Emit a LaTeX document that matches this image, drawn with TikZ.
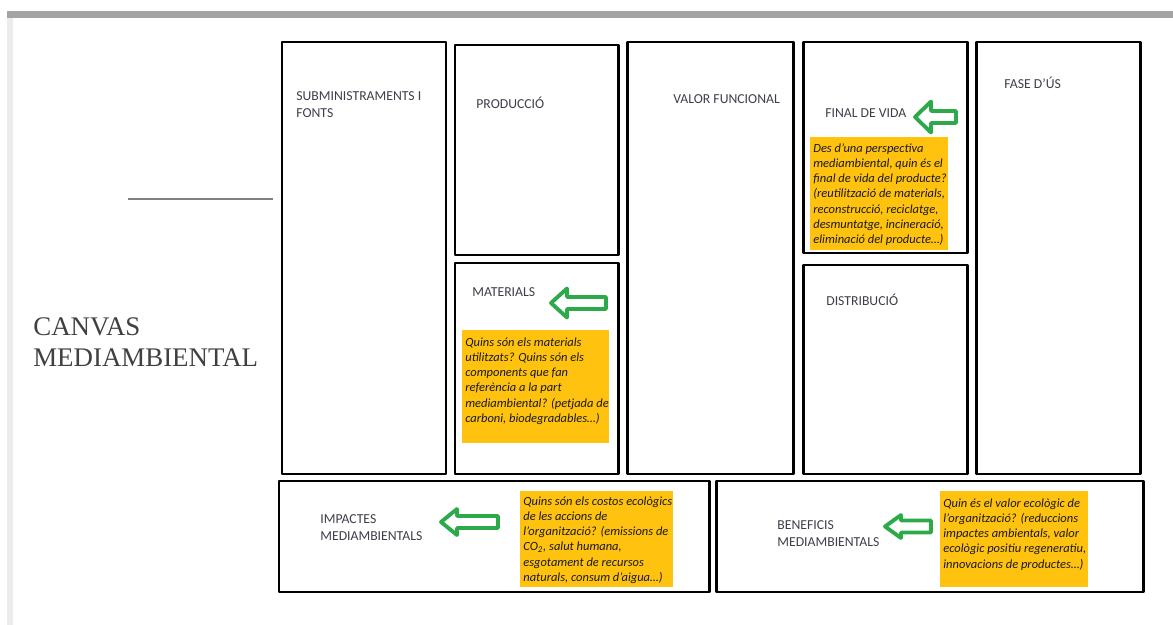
\documentclass[tikz,border=0pt]{standalone}
\usepackage{fontspec}
\setmainfont{Carlito}
\newfontfamily\titlefont{Liberation Serif}
\usetikzlibrary{positioning, calc}
\definecolor{barGrey}{RGB}{163,163,163}
\definecolor{stripGrey}{RGB}{236,236,236}
\definecolor{canvasGold}{RGB}{255,194,14}
\definecolor{arrowGreen}{RGB}{44,170,74}
\definecolor{labelGrey}{RGB}{62,62,74}

\tikzset{
  cell/.style={draw=black, line width=1.7pt, line join=round},
  cellname/.style={anchor=west, inner sep=0pt, align=left, text=labelGrey,
    font=\fontsize{7.8}{9.6}\selectfont},
  question/.style={anchor=north west, inner sep=0pt, align=left, text=black!90,
    font=\fontsize{7.1}{8.7}\selectfont\itshape},
  greenarrow/.style={draw=arrowGreen, fill=white, line width=2.2pt, line join=round}
}

\begin{document}
\begin{tikzpicture}[x=0.02cm, y=-0.02cm]
        \useasboundingbox (0,0) rectangle (1173,625);
        % page frame
        \fill[stripGrey] (7,11) rectangle (13,625);
        \fill[barGrey] (7,11) rectangle (1173,18);

        % title
        \draw[gray, line width=0.7pt] (128,199) -- (273,199);
        \node[anchor=west, inner sep=0pt, align=left, text=black!75,
          font=\titlefont\fontsize{15.3}{17.6}\selectfont] (title) at (33,342.5) {CANVAS\\MEDIAMBIENTAL};

        % cells of the canvas
        \draw[cell] (282,42) rectangle (446,474);
        \draw[cell] (455,45) rectangle (618,255);
        \draw[cell] (455,263) rectangle (618,474);
        \draw[cell] (627,42) rectangle (793,474);
        \draw[cell] (803,42) rectangle (967,253);
        \draw[cell] (803,265) rectangle (967,474);
        \draw[cell] (976,42) rectangle (1140,474);
        \draw[cell] (279,481) rectangle (709,592);
        \draw[cell] (716,481) rectangle (1143,592);

        \node[cellname] (supply) at (296,104.5) {SUBMINISTRAMENTS I\\FONTS};
        \node[cellname] (production) at (476,103) {PRODUCCIÓ};
        \node[cellname] (materials) at (472,292) {MATERIALS};
        \node[cellname] (value) at (673,99) {VALOR FUNCIONAL};
        \node[cellname] (endoflife) at (825,113) {FINAL DE VIDA};
        \node[cellname] (distribution) at (826,300) {DISTRIBUCIÓ};
        \node[cellname] (usephase) at (1004,83) {FASE D'ÚS};
        \node[cellname] (impacts) at (320,528) {IMPACTES\\MEDIAMBIENTALS};
        \node[cellname] (benefits) at (777,533.5) {BENEFICIS\\MEDIAMBIENTALS};

        % green arrows
        \foreach \tx/\ty/\len/\hh in {915/117/41/15.5, 551/303/55/14.5, 441/522/57/13, 885/526.5/46/11.5}
          \draw[greenarrow] (\tx,\ty) -- ++(16,-\hh) -- ++(0,\hh-6) -- ++(\len-16,0)
            -- ++(0,12) -- ++(-\len+16,0) -- ++(0,\hh-6) -- cycle;

        % yellow questions
        \fill[canvasGold] (810,137) rectangle (948,250);
        \node[question] (endq) at (813,143) {Des d'una perspectiva\\mediambiental, quin és el\\final de vida del producte?\\(reutilització de materials,\\reconstrucció, reciclatge,\\desmuntatge, incineració,\\eliminació del producte\ldots)};

        \fill[canvasGold] (462,330) rectangle (609,443);
        \node[question] (materialsq) at (465,337) {Quins són els materials\\utilitzats? Quins són els\\components que fan\\referència a la part\\mediambiental? (petjada de\\carboni, biodegradables\ldots)};

        \fill[canvasGold] (520,491) rectangle (673,587);
        \node[question] (impactsq) at (523,496) {Quins són els costos ecològics\\de les accions de\\l'organització? (emissions de\\CO\textsubscript{2}, salut humana,\\esgotament de recursos\\naturals, consum d'aigua\ldots)};

        \fill[canvasGold] (940,491) rectangle (1088,587);
        \node[question] (benefitsq) at (943,498) {Quin és el valor ecològic de\\l'organització? (reduccions\\impactes ambientals, valor\\ecològic positiu regeneratiu,\\innovacions de productes\ldots)};

      \end{tikzpicture}
\end{document}
